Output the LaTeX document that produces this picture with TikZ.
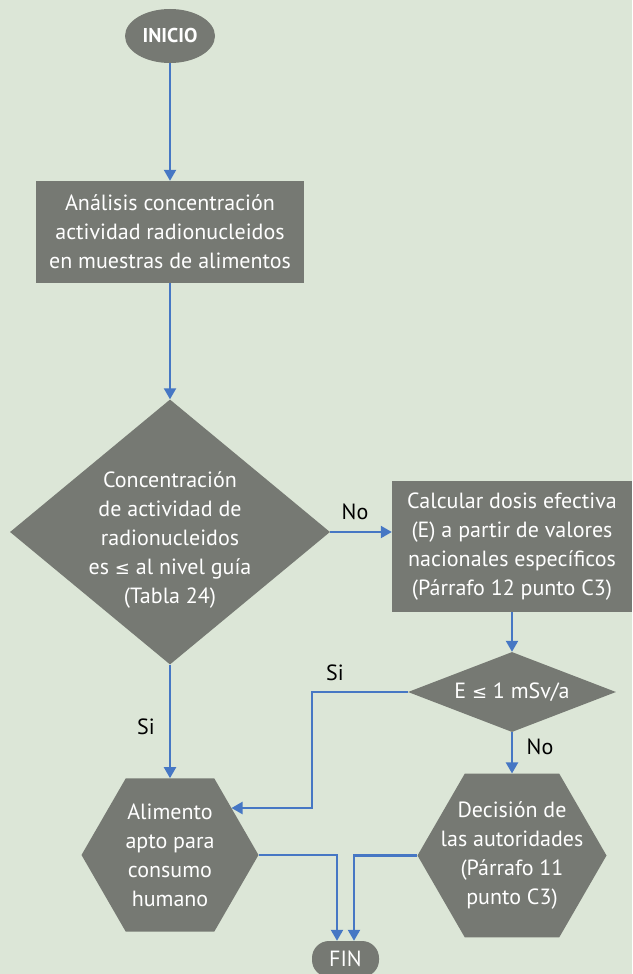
\documentclass[tikz,border=0pt]{standalone}
\usepackage{fontspec}
\setmainfont{PT Sans}
\newfontfamily\simbolo{DejaVu Sans}
\usetikzlibrary{shapes.geometric,arrows.meta,calc}
\definecolor{fondo}{HTML}{DCE6D7}
\definecolor{gris}{HTML}{767973}
\definecolor{azul}{HTML}{4677C4}
\newcommand{\menorigual}{{\simbolo\fontsize{18}{29}\selectfont ≤}}
\begin{document}
\begin{tikzpicture}[x=1pt,y=-1pt,
    caja/.style={fill=gris, text=white, inner sep=0pt, align=center, font=\fontsize{22}{29}\selectfont},
    texto/.style={text=white, inner sep=0pt, align=center, font=\fontsize{22}{29}\selectfont},
    flecha/.style={draw=azul, line width=2.2pt, -{Triangle[width=12pt,length=11pt]}},
    etiq/.style={font=\fontsize{22}{24}\selectfont}]
  \fill[fondo] (0,0) rectangle (632,974);
  \useasboundingbox (0,0) rectangle (632,974);
  \node[caja, ellipse, minimum width=90pt, minimum height=54pt, font=\bfseries\fontsize{20}{22}\selectfont] (inicio) at (170,36) {INICIO};
  \node[caja, minimum width=268pt, minimum height=102pt] (analisis) at (170,232) {Análisis concentración\\actividad radionucleidos\\en muestras de alimentos};
  \node[caja, diamond, minimum width=320pt, minimum height=265pt] (cond) at (170,532) {};
  \node[texto] (condtxt) at ($(cond)+(0,8)$) {Concentración\\de actividad de\\radionucleidos\\es \menorigual{} al nivel guía\\(Tabla 24)};
  \node[caja, minimum width=240pt, minimum height=131pt] (calc) at (512,546.5) {Calcular dosis efectiva\\(E) a partir de valores\\nacionales específicos\\(Párrafo 12 punto C3)};
  \node[caja, diamond, minimum width=208pt, minimum height=80pt] (dosis) at (512,692) {};
  \node[texto] (dosistxt) at (dosis) {E \menorigual{} 1 mSv/a};
  \node[caja, regular polygon, regular polygon sides=6, minimum size=177pt] (apto) at (170,855) {};
  \node[texto] (aptotxt) at (apto) {Alimento\\apto para\\consumo\\humano};
  \node[caja, regular polygon, regular polygon sides=6, minimum size=189pt] (decision) at (512,855.5) {};
  \node[texto] (decisiontxt) at (decision) {Decisión de\\las autoridades\\(Párrafo 11\\punto C3)};
  \node[caja, rounded corners=17pt, minimum width=67pt, minimum height=36pt] (fin) at (345.5,959) {FIN};
  \node[etiq] (no1) at (355,512) {No};
  \node[etiq] (si1) at (146,727) {Si};
  \node[etiq] (si2) at (335,673) {Si};
  \node[etiq] (no2) at (540,747) {No};
  \coordinate (finA) at ($(fin.north)+(-8.5,0)$);
  \coordinate (finB) at ($(fin.north)+(8.5,0)$);
  \coordinate (aptoSi) at ($(apto.center)+(61.5,-47)$);
  \draw[flecha] (inicio) -- (analisis);
  \draw[flecha] (analisis) -- (cond);
  \draw[flecha] (cond.east) -- (cond.east -| calc.west);
  \draw[flecha] (calc) -- (dosis);
  \draw[flecha] (dosis.west) -- ++(-96,0) |- (aptoSi);
  \draw[flecha] (cond) -- (apto);
  \draw[flecha] (dosis) -- (decision);
  \draw[flecha] (apto.east) -| (finA);
  \draw[flecha] (decision.west) -| (finB);
\end{tikzpicture}
\end{document}
